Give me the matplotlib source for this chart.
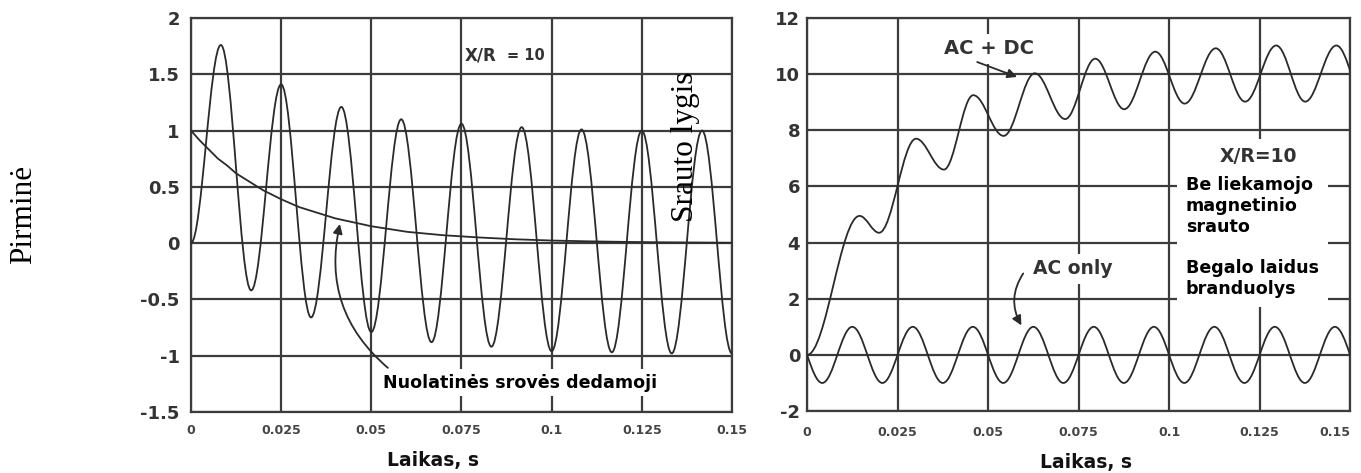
import matplotlib.pyplot as plt
from matplotlib.path import Path
from matplotlib.patches import PathPatch

plt.rcParams['axes.unicode_minus'] = False

# ---- data ------------------------------------------------------------------
# left: primary current (peaks / troughs), X/R = 10
cur_t = [0, 0.0083, 0.0167, 0.025, 0.0333, 0.0417, 0.05, 0.0583, 0.0667, 0.075,
         0.0833, 0.0917, 0.1, 0.1083, 0.1167, 0.125, 0.1333, 0.1417, 0.15]
cur_v = [0, 1.76, -0.42, 1.41, -0.66, 1.21, -0.79, 1.10, -0.88, 1.06,
         -0.92, 1.03, -0.96, 1.01, -0.97, 1.0, -0.98, 1.0, -0.98]

# left: decaying dc component
decay_t = [0, 0.0025, 0.005, 0.0075, 0.01, 0.0125, 0.015, 0.02, 0.025, 0.03,
           0.035, 0.04, 0.05, 0.06, 0.07, 0.08, 0.09, 0.10, 0.11, 0.12,
           0.13, 0.14, 0.15]
decay_v = [1.0, 0.91, 0.83, 0.75, 0.69, 0.62, 0.57, 0.47, 0.39, 0.32,
           0.27, 0.22, 0.15, 0.10, 0.07, 0.05, 0.034, 0.023, 0.016, 0.011,
           0.007, 0.005, 0.003]

# right: flux, AC + DC (extremes)
acdc_t = [0, 0.0145, 0.0199, 0.0301, 0.0378, 0.0459, 0.0543, 0.0629, 0.0713,
          0.0796, 0.0876, 0.0962, 0.1043, 0.1129, 0.121, 0.1296, 0.1376,
          0.1462, 0.1543]
acdc_v = [0, 4.95, 4.35, 7.7, 6.6, 9.25, 7.8, 10.03, 8.4,
          10.55, 8.75, 10.8, 8.95, 10.92, 9.02, 11.02, 9.02,
          11.02, 9.05]

# right: flux, AC only (starts at zero, then extremes)
ac_t = [0, 0.0042, 0.0125, 0.0208, 0.0292, 0.0375, 0.0458, 0.0542, 0.0625,
        0.0708, 0.0792, 0.0875, 0.0958, 0.1042, 0.1125, 0.1208, 0.1292,
        0.1375, 0.1458, 0.1542]
ac_v = [0, -1, 1, -1, 1, -1, 1, -1, 1,
        -1, 1, -1, 1, -1, 1, -1, 1,
        -1, 1, -1]

x_ticks = [0, 0.025, 0.05, 0.075, 0.1, 0.125, 0.15]
x_labels = ['0', '0.025', '0.05', '0.075', '0.1', '0.125', '0.15']
left_yticks = [2, 1.5, 1, 0.5, 0, -0.5, -1, -1.5]
left_ylabels = ['2', '1.5', '1', '0.5', '0', '-0.5', '-1', '-1.5']
right_yticks = [12, 10, 8, 6, 4, 2, 0, -2]

# ---- style ------------------------------------------------------------------
GRID = '#3c3c3c'
LINE = '#2a2a2a'
TXT = '#333333'


def wave(ax, t, v, start_zero=False):
    # smooth wave through the extremes, drawn as bezier segments
    verts = [(t[0], v[0])]
    codes = [Path.MOVETO]
    for i in range(len(t) - 1):
        dt = t[i + 1] - t[i]
        dv = v[i + 1] - v[i]
        if i == 0 and start_zero:
            c1 = (t[i] + 0.326 * dt, v[i] + 0.512 * dv)
        else:
            c1 = (t[i] + 0.364 * dt, v[i])
        c2 = (t[i + 1] - 0.364 * dt, v[i + 1])
        verts += [c1, c2, (t[i + 1], v[i + 1])]
        codes += [Path.CURVE4] * 3
    ax.add_patch(PathPatch(Path(verts, codes), fill=False, ec=LINE, lw=1.3, zorder=4))


def setup(ax, yticks, ylabels, ylim, ypad, xpad):
    ax.set_xlim(0, 0.15)
    ax.set_ylim(*ylim)
    ax.set_xticks(x_ticks)
    ax.set_xticklabels(x_labels, fontsize=9, fontweight='bold', color='#444444')
    ax.set_yticks(yticks)
    ax.set_yticklabels(ylabels, fontsize=13, fontweight='bold', color=TXT)
    ax.tick_params(axis='y', length=0, pad=ypad)
    ax.tick_params(axis='x', length=0, pad=xpad)
    ax.grid(True, color=GRID, lw=1.6)
    ax.set_axisbelow(True)
    for s in ax.spines.values():
        s.set_color(GRID)
        s.set_linewidth(1.6)


fig = plt.figure(figsize=(13.61, 4.73), dpi=100)

# ---- left panel --------------------------------------------------------------
ax1 = fig.add_axes([0.1403, 0.129, 0.3975, 0.833])
setup(ax1, left_yticks, left_ylabels, (-1.5, 2), 8, 9)
wave(ax1, cur_t, cur_v)
ax1.plot(decay_t, decay_v, color=LINE, lw=1.3, zorder=4)

ax1.text(0.0758, 1.67, 'X/R', fontsize=12, fontweight='bold', color=TXT,
         ha='left', va='center')
ax1.text(0.0875, 1.67, '= 10', fontsize=10.5, fontweight='bold', color=TXT,
         ha='left', va='center')
ax1.text(0.0532, -1.24, 'Nuolatinės srovės dedamoji', fontsize=12.6,
         fontweight='bold', color='black', ha='left', va='center', zorder=5,
         bbox=dict(boxstyle='square,pad=0.25', fc='white', ec='none'))
ax1.annotate('', xy=(0.0413, 0.17), xytext=(0.0546, -1.108),
             arrowprops=dict(arrowstyle='-|>', color=LINE, lw=1.3,
                             mutation_scale=14, shrinkA=0, shrinkB=0,
                             connectionstyle='arc3,rad=-0.3'), zorder=6)
ax1.text(0.5 - 0.053, -0.122, 'Laikas, s', transform=ax1.transAxes,
         fontsize=13.5, fontweight='bold', color='#111111', ha='center', va='center')

# ---- right panel -------------------------------------------------------------
ax2 = fig.add_axes([0.593, 0.131, 0.399, 0.831])
setup(ax2, right_yticks, [str(v) for v in right_yticks], (-2, 12), 5, 11)
ax2.get_xticklabels()[-1].set_horizontalalignment('right')
wave(ax2, acdc_t, acdc_v)
wave(ax2, ac_t, ac_v, start_zero=True)

box = dict(boxstyle='square,pad=0.3', fc='white', ec='none')
ax2.text(0.0502, 10.9, 'AC + DC', fontsize=14, fontweight='bold', color=TXT,
         ha='center', va='center', zorder=5, bbox=box)
ax2.annotate('', xy=(0.058, 9.9), xytext=(0.047, 10.43),
             arrowprops=dict(arrowstyle='-|>', color=LINE, lw=1.3,
                             mutation_scale=14, shrinkA=0, shrinkB=0), zorder=6)
ax2.text(0.1248, 7.05, 'X/R=10', fontsize=13.5, fontweight='bold', color=TXT,
         ha='center', va='center', zorder=5,
         bbox=dict(boxstyle='square,pad=0.45', fc='white', ec='none'))
ax2.text(0.1046, 6.37, 'Be liekamojo\nmagnetinio\nsrauto\n\nBegalo laidus\nbranduolys',
         fontsize=12.6, fontweight='bold', color='black', ha='left', va='top',
         linespacing=1.2, zorder=5,
         bbox=dict(boxstyle='square,pad=0.5', fc='white', ec='none'))
ax2.text(0.0734, 3.06, 'AC only', fontsize=13.5, fontweight='bold', color=TXT,
         ha='center', va='center', zorder=5, bbox=box)
ax2.annotate('', xy=(0.0592, 1.05), xytext=(0.0597, 2.9),
             arrowprops=dict(arrowstyle='-|>', color=LINE, lw=1.3,
                             mutation_scale=14, shrinkA=0, shrinkB=0,
                             connectionstyle='arc3,rad=0.3'), zorder=6)
ax2.text(0.514, -0.132, 'Laikas, s', transform=ax2.transAxes,
         fontsize=13.5, fontweight='bold', color='#111111', ha='center', va='center')

# ---- vertical labels in serif --------------------------------------------------
fig.text(24 / 1361, 1 - 214 / 473, 'Pirminė', rotation=90, fontsize=22.5,
         family='Liberation Serif', ha='center', va='center')
fig.text(686 / 1361, 1 - 147 / 473, 'Srauto lygis', rotation=90, fontsize=22.5,
         family='Liberation Serif', ha='center', va='center', zorder=10)

fig.savefig('out.png', dpi=100)
